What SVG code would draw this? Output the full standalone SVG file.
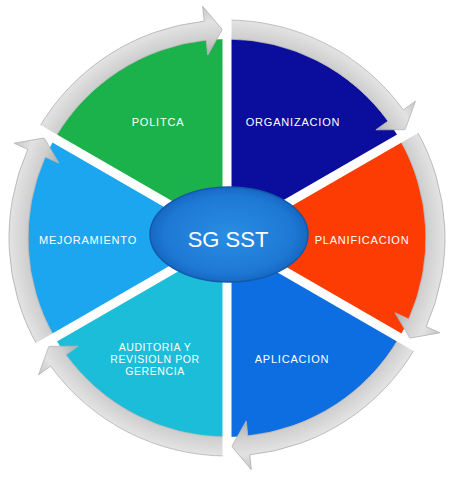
<svg xmlns="http://www.w3.org/2000/svg" xmlns:xlink="http://www.w3.org/1999/xlink" width="457" height="480" viewBox="0 0 457 480">
  <style>
    .lbl { font-family: "Liberation Sans", Arial, sans-serif; font-size: 11px; fill: #ffffff; text-anchor: middle; letter-spacing: 0.8px; }
    .lbl2 { font-family: "Liberation Sans", Arial, sans-serif; font-size: 10.5px; fill: #ffffff; text-anchor: middle; letter-spacing: 0.6px; }
    .title { font-family: "Liberation Sans", Arial, sans-serif; font-size: 22px; fill: #ffffff; text-anchor: middle; }
    .gap { stroke: #ffffff; stroke-width: 9; }
    .ring { fill: url(#ringGrad); stroke: #b5b5b5; stroke-width: 0.8; }
  </style>
  <defs>
    <radialGradient id="ringGrad" gradientUnits="userSpaceOnUse" cx="227" cy="238" r="233">
      <stop offset="0.79" stop-color="#aeaeae"/>
      <stop offset="0.86" stop-color="#cfcfcf"/>
      <stop offset="0.93" stop-color="#e2e2e2"/>
      <stop offset="1" stop-color="#c6c6c6"/>
    </radialGradient>
    <radialGradient id="hubGrad" cx="0.5" cy="0.5" r="0.55">
      <stop offset="0" stop-color="#2a8de4"/>
      <stop offset="0.75" stop-color="#1d78d4"/>
      <stop offset="1" stop-color="#135fb8"/>
    </radialGradient>
    <path id="arrow" class="ring" d="M 227 20 A 218 218 0 0 1 403.37 109.86 L 415.5 101.05 L 405.15 129.68 L 375.86 129.85 L 388 121.03 A 199 199 0 0 0 227 39 Z"/>
  </defs>

  <rect x="0" y="0" width="457" height="480" fill="#ffffff"/>

  <g id="node-organizacion">
    <path d="M 227 238 L 227 39 A 199 199 0 0 1 399.34 138.5 Z" fill="#0b0d9c"/>
    <text class="lbl" x="293" y="126">ORGANIZACION</text>
  </g>
  <g id="node-planificacion">
    <path d="M 227 238 L 399.34 138.5 A 199 199 0 0 1 399.34 337.5 Z" fill="#fd3c04"/>
    <text class="lbl" x="362" y="244">PLANIFICACION</text>
  </g>
  <g id="node-aplicacion">
    <path d="M 227 238 L 399.34 337.5 A 199 199 0 0 1 227 437 Z" fill="#0c6ee0"/>
    <text class="lbl" x="292" y="363">APLICACION</text>
  </g>
  <g id="node-auditoria">
    <path d="M 227 238 L 227 437 A 199 199 0 0 1 54.66 337.5 Z" fill="#1cbdd8"/>
    <text class="lbl2" x="155" y="351">AUDITORIA Y</text>
    <text class="lbl2" x="155" y="363">REVISIOLN POR</text>
    <text class="lbl2" x="155" y="375">GERENCIA</text>
  </g>
  <g id="node-mejoramiento">
    <path d="M 227 238 L 54.66 337.5 A 199 199 0 0 1 54.66 138.5 Z" fill="#1ba6ef"/>
    <text class="lbl" x="88" y="244">MEJORAMIENTO</text>
  </g>
  <g id="node-politica">
    <path d="M 227 238 L 54.66 138.5 A 199 199 0 0 1 227 39 Z" fill="#1cb24b"/>
    <text class="lbl" x="158" y="126">POLITCA</text>
  </g>

  <g id="connectors">
    <use xlink:href="#arrow" href="#arrow"/>
    <use xlink:href="#arrow" href="#arrow" transform="rotate(60 227 238)"/>
    <use xlink:href="#arrow" href="#arrow" transform="rotate(120 227 238)"/>
    <use xlink:href="#arrow" href="#arrow" transform="rotate(180 227 238)"/>
    <use xlink:href="#arrow" href="#arrow" transform="rotate(240 227 238)"/>
    <use xlink:href="#arrow" href="#arrow" transform="rotate(300 227 238)"/>
  </g>

  <g id="gaps">
    <line class="gap" x1="227" y1="238" x2="227" y2="-7"/>
    <line class="gap" x1="227" y1="238" x2="439.18" y2="115.5"/>
    <line class="gap" x1="227" y1="238" x2="439.18" y2="360.5"/>
    <line class="gap" x1="227" y1="238" x2="227" y2="483"/>
    <line class="gap" x1="227" y1="238" x2="14.82" y2="360.5"/>
    <line class="gap" x1="227" y1="238" x2="14.82" y2="115.5"/>
  </g>

  <g id="node-sgsst">
    <ellipse cx="229" cy="234.5" rx="79" ry="47.5" fill="url(#hubGrad)" stroke="#1259ab" stroke-width="1.5"/>
    <text class="title" x="228" y="247">SG SST</text>
  </g>
</svg>
